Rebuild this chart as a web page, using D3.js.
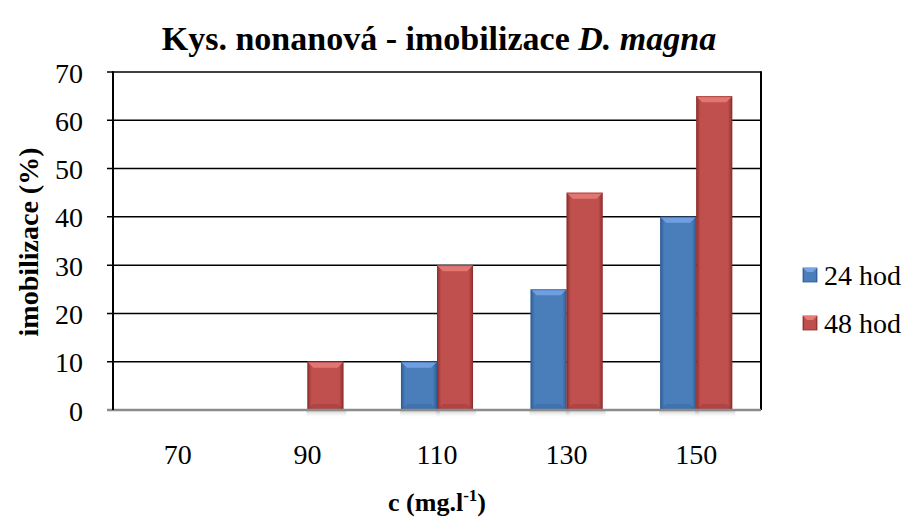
<!DOCTYPE html>
<html>
<head>
<meta charset="utf-8">
<script src="https://d3js.org/d3.v7.min.js"></script>
<style>
  body { margin: 0; background: #fff; }
  text { font-family: "Liberation Serif", "Times New Roman", serif; }
</style>
</head>
<body>
<svg id="chart" width="907" height="522"></svg>
<script>
  // data
  var categories = ['70', '90', '110', '130', '150']
  var series = ['24 hod', '48 hod']
  var hod24 = [0, 0, 10, 25, 40]
  var hod48 = [0, 10, 30, 45, 65]
  var yTicks = [0, 10, 20, 30, 40, 50, 60, 70]

  var colors = {'24 hod': {base: '#4a7ebb', light: '#74a3e6', dark: '#2f5d98'},
                '48 hod': {base: '#c0504d', light: '#e67a77', dark: '#8f2f2d'}}

  var svg = d3.select('#chart')
  var pLeft = 113, pRight = 761, pTop = 72, pBottom = 410

  var x = d3.scaleBand().domain(categories).range([pLeft, pRight]).paddingInner(0.444).paddingOuter(0.222)
  var xs = d3.scaleBand().domain(series).range([0, x.bandwidth()])
  var y = d3.scaleLinear().domain([0, 70]).range([pBottom, pTop])

  var defs = svg.append('defs')
  series.forEach(function (s, i) {
    var g = defs.append('linearGradient').attr('id', 'g' + i).attr('x1', 0).attr('x2', 1).attr('y1', 0).attr('y2', 0)
    g.append('stop').attr('offset', '0%').attr('stop-color', colors[s].dark)
    g.append('stop').attr('offset', '12%').attr('stop-color', colors[s].base)
    g.append('stop').attr('offset', '88%').attr('stop-color', colors[s].base)
    g.append('stop').attr('offset', '100%').attr('stop-color', colors[s].dark)
  })
  var sh = defs.append('linearGradient').attr('id', 'shadow').attr('x1', 0).attr('x2', 0).attr('y1', 0).attr('y2', 1)
  sh.append('stop').attr('offset', '0%').attr('stop-color', '#888').attr('stop-opacity', 0.5)
  sh.append('stop').attr('offset', '100%').attr('stop-color', '#fff').attr('stop-opacity', 0)

  // gridlines
  svg.append('g').selectAll('line').data(yTicks.slice(1)).enter().append('line')
      .attr('x1', pLeft - 6).attr('x2', pRight).attr('y1', function (d) {return y(d)}).attr('y2', function (d) {return y(d)})
      .attr('stroke', '#000').attr('stroke-width', 1.5)

  // frame
  svg.append('line').attr('x1', pRight).attr('x2', pRight).attr('y1', pTop - 0.75).attr('y2', pBottom).attr('stroke', '#000').attr('stroke-width', 2)

  // bars
  var rows = []
  categories.forEach(function (c, i) {
    rows.push({cat: c, s: '24 hod', v: hod24[i], si: 0})
    rows.push({cat: c, s: '48 hod', v: hod48[i], si: 1})
  })
  var bars = svg.append('g').selectAll('g').data(rows.filter(function (d) {return d.v > 0})).enter().append('g')
      .attr('transform', function (d) {return 'translate(' + (x(d.cat) + xs(d.s)) + ',0)'})
  var w = xs.bandwidth(), b = 6
  bars.append('rect').attr('x', -1).attr('y', pBottom).attr('width', w + 4).attr('height', 8).attr('fill', 'url(#shadow)')
  bars.append('rect').attr('x', 0).attr('y', function (d) {return y(d.v)}).attr('width', w)
      .attr('height', function (d) {return pBottom - y(d.v)}).attr('fill', function (d) {return 'url(#g' + d.si + ')'})
  // top bevel
  bars.append('path').attr('d', function (d) {
    var t = y(d.v)
    return 'M0,' + t + 'L' + w + ',' + t + 'L' + (w - b) + ',' + (t + b) + 'L' + b + ',' + (t + b) + 'Z'
  }).attr('fill', function (d) {return colors[d.s].light}).attr('opacity', 0.9)
  // bottom bevel
  bars.append('path').attr('d', function (d) {
    return 'M0,' + pBottom + 'L' + w + ',' + pBottom + 'L' + (w - b) + ',' + (pBottom - b) + 'L' + b + ',' + (pBottom - b) + 'Z'
  }).attr('fill', function (d) {return colors[d.s].dark}).attr('opacity', 0.35)
  bars.append('rect').attr('x', 0.5).attr('y', function (d) {return y(d.v) + 0.5}).attr('width', w - 1)
      .attr('height', function (d) {return pBottom - y(d.v) - 1}).attr('fill', 'none')
      .attr('stroke', function (d) {return colors[d.s].dark}).attr('stroke-opacity', 0.6)

  // baseline and left axis
  svg.append('line').attr('x1', pLeft - 6).attr('x2', pRight).attr('y1', pBottom).attr('y2', pBottom).attr('stroke', '#8c8c8c').attr('stroke-width', 2.5)
  svg.append('line').attr('x1', pLeft).attr('x2', pLeft).attr('y1', pTop - 0.75).attr('y2', pBottom).attr('stroke', '#000').attr('stroke-width', 2)

  // y tick labels
  svg.append('g').selectAll('text').data(yTicks).enter().append('text')
      .attr('x', pLeft - 30).attr('y', function (d) {return y(d) + 10.5})
      .attr('text-anchor', 'end').attr('font-size', 28).text(function (d) {return d})

  // x tick labels
  svg.append('g').selectAll('text').data(categories).enter().append('text')
      .attr('x', function (d) {return x(d) + x.bandwidth() / 2}).attr('y', 464)
      .attr('text-anchor', 'middle').attr('font-size', 28).text(function (d) {return d})

  // title
  var title = svg.append('text').attr('x', 439).attr('y', 50).attr('text-anchor', 'middle')
      .attr('font-size', 34).attr('font-weight', 'bold')
  title.append('tspan').text('Kys. nonanová - imobilizace ')
  title.append('tspan').attr('font-style', 'italic').text('D. magna')

  // axis titles
  svg.append('text').attr('transform', 'translate(38,' + ((pTop + pBottom) / 2 + 1) + ') rotate(-90)')
      .attr('text-anchor', 'middle').attr('font-size', 28).attr('font-weight', 'bold').text('imobilizace (%)')
  var xt = svg.append('text').attr('x', 437).attr('y', 511).attr('text-anchor', 'middle')
      .attr('font-size', 26).attr('font-weight', 'bold')
  xt.append('tspan').text('c (mg.l')
  xt.append('tspan').attr('dy', -10).attr('font-size', 17).text('-1')
  xt.append('tspan').attr('dy', 10).text(')')

  // legend
  var leg = svg.append('g').selectAll('g').data(series).enter().append('g')
      .attr('transform', function (d, i) {return 'translate(803,' + (268 + i * 48) + ')'})
  leg.append('rect').attr('width', 14).attr('height', 14).attr('fill', function (d, i) {return 'url(#g' + i + ')'})
      .attr('stroke', function (d) {return colors[d].dark}).attr('stroke-width', 0.8)
  leg.append('path').attr('d', 'M0,0L14,0L10,4L4,4Z').attr('fill', function (d) {return colors[d].light})
  leg.append('text').attr('x', 21).attr('y', 17).attr('font-size', 28).text(function (d) {return d})
</script>
</body>
</html>
